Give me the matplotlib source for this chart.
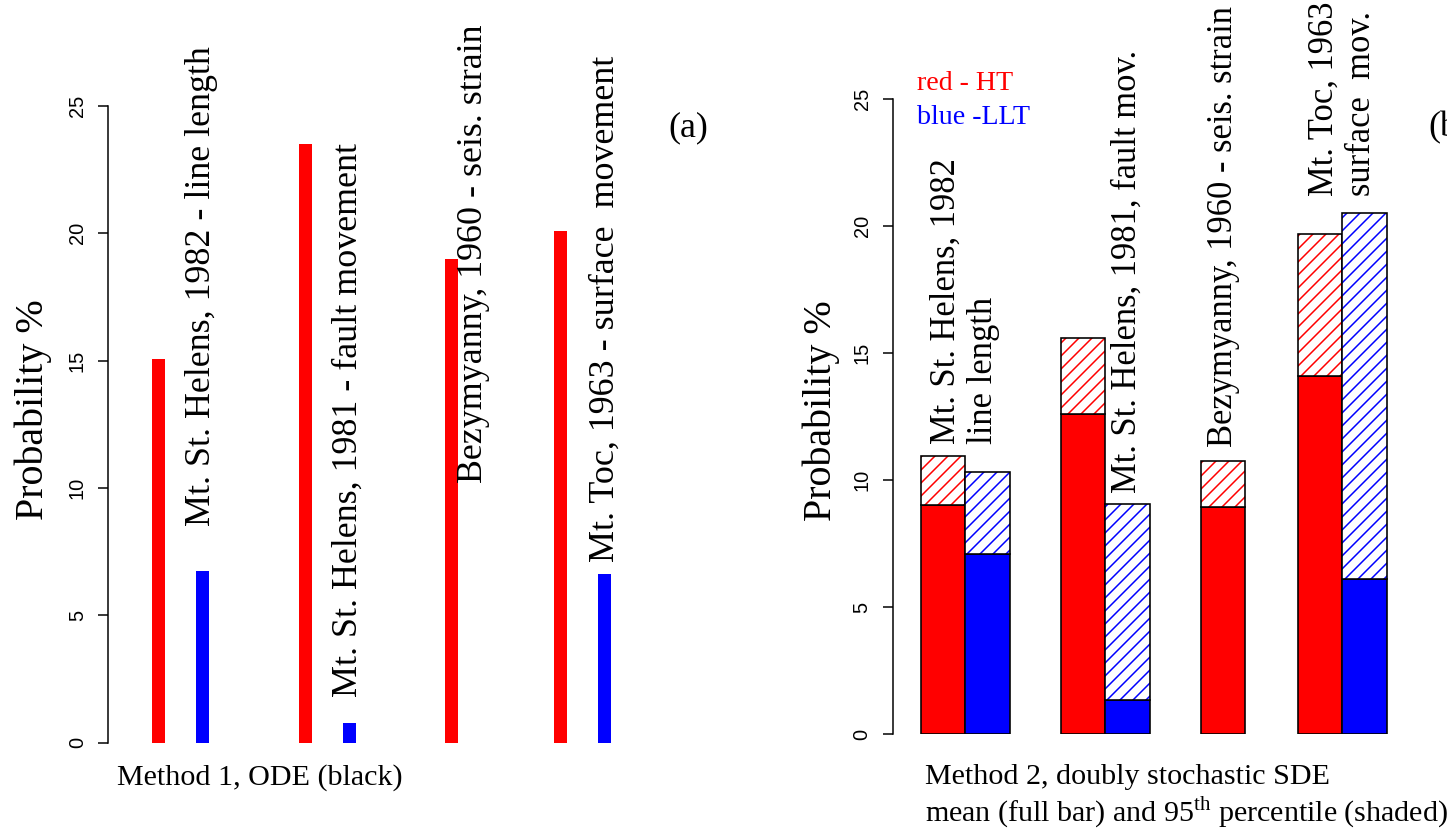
import numpy as np
import matplotlib
matplotlib.use("Agg")
import matplotlib.pyplot as plt

# ---- data ----
events = ["Mt. St. Helens, 1982", "Mt. St. Helens, 1981", "Bezymyanny, 1960", "Mt. Toc, 1963"]
ode_ht = [15.05, 23.5, 19.0, 20.1]
ode_llt = [6.75, 0.76, 0.0, 6.63]
sde_ht_mean = [9.0, 12.6, 8.95, 14.1]
sde_ht_p95 = [10.95, 15.6, 10.75, 19.7]
sde_llt_mean = [7.1, 1.35, np.nan, 6.1]
sde_llt_p95 = [10.3, 9.05, np.nan, 20.5]

labels_a = ["Mt. St. Helens, 1982 - line length",
            "Mt. St. Helens, 1981 - fault movement",
            "Bezymyanny, 1960 - seis. strain",
            "Mt. Toc, 1963 - surface  movement"]
labels_b = ["Mt. St. Helens, 1982\nline length",
            "Mt. St. Helens, 1981, fault mov.",
            "Bezymyanny, 1960 - seis. strain",
            "Mt. Toc, 1963\nsurface  mov."]
yticks = [0, 5, 10, 15, 20, 25]

# ---- layout ----
DPI = 78
W, H = 1447, 829
SERIF = "Liberation Serif"
SANS = "Liberation Sans"

def pt(px):
    return px * 72 / DPI

plt.rcParams["font.family"] = SANS
plt.rcParams["ytick.labelsize"] = pt(20)
plt.rcParams["ytick.major.size"] = pt(10)
plt.rcParams["ytick.major.width"] = 1.4
plt.rcParams["ytick.major.pad"] = pt(11)
plt.rcParams["hatch.linewidth"] = 1.4
plt.rcParams["mathtext.fontset"] = "custom"
plt.rcParams["mathtext.rm"] = SERIF

fig = plt.figure(figsize=(W / DPI, H / DPI), dpi=DPI)

def style_axis(ax):
    for s in ["top", "right", "bottom"]:
        ax.spines[s].set_visible(False)
    ax.spines["left"].set_linewidth(1.4)
    ax.set_ylim(0, 25)
    ax.set_xticks([])
    ax.set_yticks(yticks)
    ax.set_yticklabels([str(t) for t in yticks], rotation=90, va="center")

# panel (a)
ax1 = fig.add_axes([108 / W, 1 - 742.7 / H, 612 / W, 637 / H])
ax1.set_xlim(0, 612)
xa = np.array([50, 197, 343, 452])
ax1.bar(xa, ode_ht, width=13, color="#ff0000", linewidth=0)
ax1.bar(xa + 44, ode_llt, width=13, color="#0000ff", linewidth=0)
lab_x = [94, 240.5, 366, 497]
lab_y = [8.5, 1.8, 10.2, 7.1]
for x, y, s in zip(lab_x, lab_y, labels_a):
    ax1.text(x, y, s, rotation=90, ha="center", va="bottom",
             family=SERIF, fontsize=pt(36))
style_axis(ax1)

# panel (b)
ax2 = fig.add_axes([892.7 / W, 1 - 734 / H, (W - 892.7) / W, 635 / H])
ax2.set_xlim(0, W - 892.7)
xb = np.array([28.3, 168.3, 308.3, 405.3])
bw = 44.3

def stacked(ax, left, mean, p95, col):
    ok = ~np.isnan(mean)
    l, m, p = left[ok], np.array(mean)[ok], np.array(p95)[ok]
    ax.bar(l, m, width=bw, align="edge", color=col, edgecolor="black", linewidth=1.5)
    ax.bar(l, p - m, bottom=m, width=bw, align="edge", facecolor="white",
           edgecolor=col, hatch="//", linewidth=0)
    ax.bar(l, p - m, bottom=m, width=bw, align="edge", facecolor="none",
           edgecolor="black", linewidth=1.5)

stacked(ax2, xb, np.array(sde_ht_mean), np.array(sde_ht_p95), "#ff0000")
stacked(ax2, xb + bw, np.array(sde_llt_mean), np.array(sde_llt_p95), "#0000ff")

lab_xb = [72.3, 234.3, 330.3, 450.3]
lab_yb = [11.4, 9.5, 11.3, 21.2]
for x, y, s in zip(lab_xb, lab_yb, labels_b):
    ax2.text(x, y, s, rotation=90, ha="center", va="bottom", multialignment="left",
             linespacing=1.15, family=SERIF, fontsize=pt(34.5))
style_axis(ax2)

# figure-level texts
fig.text(33 / W, 1 - 410 / H, "Probability %", rotation=90, ha="center", va="center",
         family=SERIF, fontsize=pt(40))
fig.text(821 / W, 1 - 411 / H, "Probability %", rotation=90, ha="center", va="center",
         family=SERIF, fontsize=pt(40))
fig.text(688 / W, 1 - 128 / H, "(a)", ha="center", va="center", family=SERIF, fontsize=pt(36))
fig.text(1428 / W, 1 - 128 / H, "(b)", ha="left", va="center", family=SERIF, fontsize=pt(36))
fig.text(917 / W, 1 - 83 / H, "red - HT", color="#ff0000", ha="left", va="center",
         family=SERIF, fontsize=pt(28))
fig.text(917 / W, 1 - 118 / H, "blue -LLT", color="#0000ff", ha="left", va="center",
         family=SERIF, fontsize=pt(28))
fig.text(117 / W, 1 - 778 / H, "Method 1, ODE (black)", ha="left", va="center",
         family=SERIF, fontsize=pt(30))
fig.text(925 / W, 1 - 777 / H, "Method 2, doubly stochastic SDE", ha="left", va="center",
         family=SERIF, fontsize=pt(30))
fig.text(925 / W, 1 - 812 / H, r"mean (full bar) and $95^{\mathrm{th}}$ percentile (shaded)",
         ha="left", va="center", family=SERIF, fontsize=pt(30))

fig.savefig("out.png", dpi=DPI)
